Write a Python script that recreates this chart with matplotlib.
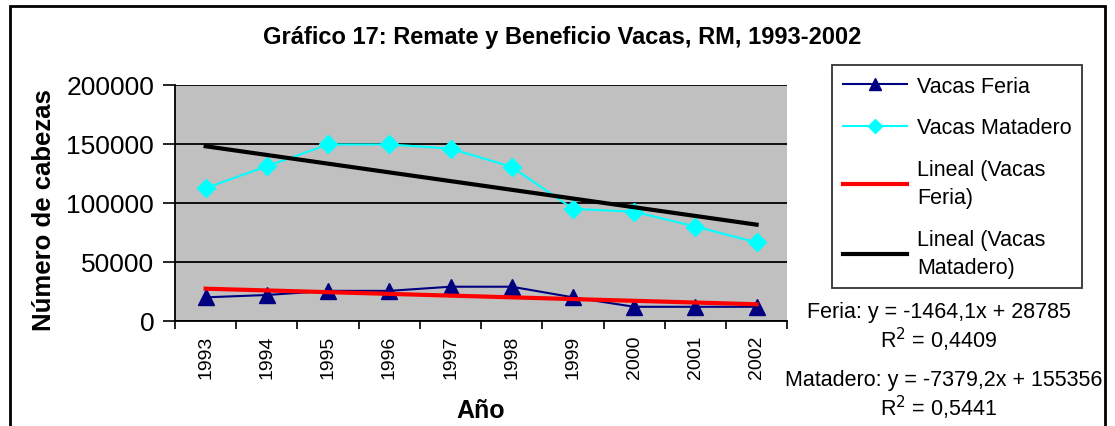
import numpy as np
import matplotlib
matplotlib.use("Agg")
import matplotlib.pyplot as plt
from matplotlib.patches import Rectangle

plt.rcParams['font.family'] = ['Liberation Sans', 'DejaVu Sans']

years = ['1993', '1994', '1995', '1996', '1997', '1998', '1999', '2000', '2001', '2002']
vacas_feria = [20000, 22000, 25500, 25500, 29000, 29000, 20000, 12000, 12000, 12000]
vacas_matadero = [112500, 131000, 149500, 149500, 146000, 130500, 95000, 92500, 80000, 66500]

# coeficientes de la linea de tendencia (tal como salen en el grafico)
feria_slope, feria_intercept = -1464.1, 28785
matadero_slope, matadero_intercept = -7379.2, 155356

x = np.arange(1, len(years) + 1)

fig = plt.figure(figsize=(11.15, 4.27), dpi=100)
ax = fig.add_axes([0.157, 0.246, 0.549, 0.553])

ax.set_facecolor('#C0C0C0')
ax.plot(x, vacas_feria, color='#000080', lw=1.5, marker='^', ms=11, label='Vacas Feria')
ax.plot(x, vacas_matadero, color='#00FFFF', lw=1.5, marker='D', ms=9, label='Vacas Matadero')
ax.plot(x, feria_slope * x + feria_intercept, color='#FF0000', lw=3, label='Lineal (Vacas\nFeria)')
ax.plot(x, matadero_slope * x + matadero_intercept, color='black', lw=3, label='Lineal (Vacas\nMatadero)')

ax.set_xlim(0.5, len(years) + 0.5)
ax.set_ylim(0, 200000)
ax.set_yticks([0, 50000, 100000, 150000, 200000])
ax.set_yticklabels(['0', '50000', '100000', '150000', '200000'], fontsize=19)
ax.set_xticks(x)
ax.set_xticklabels(years, rotation=90, fontsize=14)
ax.set_xticks(np.arange(0.5, len(years) + 1), minor=True)
ax.tick_params(axis='x', which='major', length=0, pad=10)
ax.tick_params(axis='x', which='minor', length=6, width=1.2, direction='out')
ax.tick_params(axis='y', length=9, width=1.2, direction='out', pad=6)
ax.yaxis.grid(True, color='black', lw=1.3)
ax.set_axisbelow(True)
for s in ['top', 'right']:
    ax.spines[s].set_visible(False)
for s in ['left', 'bottom']:
    ax.spines[s].set_linewidth(1.3)

ax.set_ylabel('Número de cabezas', fontsize=18.5, fontweight='bold')
ax.yaxis.set_label_coords(-0.194, 0.475)
ax.set_xlabel('Año', fontsize=18, fontweight='bold', labelpad=14)

fig.text(0.504, 0.913, 'Gráfico 17: Remate y Beneficio Vacas, RM, 1993-2002',
         ha='center', va='center', fontsize=17, fontweight='bold')

leg = fig.legend(loc='upper left', bbox_to_anchor=(0.746, 0.845), fontsize=15.5,
                 frameon=True, fancybox=False, edgecolor='black', handlelength=3.0,
                 handletextpad=0.45, labelspacing=0.95, borderpad=0.5, borderaxespad=0,
                 markerscale=0.8)
leg.get_frame().set_linewidth(1.3)
for t in leg.get_texts():
    t.set_linespacing(1.45)

fig.text(0.842, 0.267, 'Feria: y = -1464,1x + 28785', ha='center', va='center', fontsize=15.5)
fig.text(0.842, 0.204, 'R$^2$ = 0,4409', ha='center', va='center', fontsize=15.5)
fig.text(0.846, 0.110, 'Matadero: y = -7379,2x + 155356', ha='center', va='center', fontsize=15.5)
fig.text(0.842, 0.044, 'R$^2$ = 0,5441', ha='center', va='center', fontsize=15.5)

fig.patches.append(Rectangle((0.009, -0.05), 0.982, 1.034, transform=fig.transFigure,
                             fill=False, edgecolor='black', lw=2))

fig.savefig('out.png', dpi=100)
